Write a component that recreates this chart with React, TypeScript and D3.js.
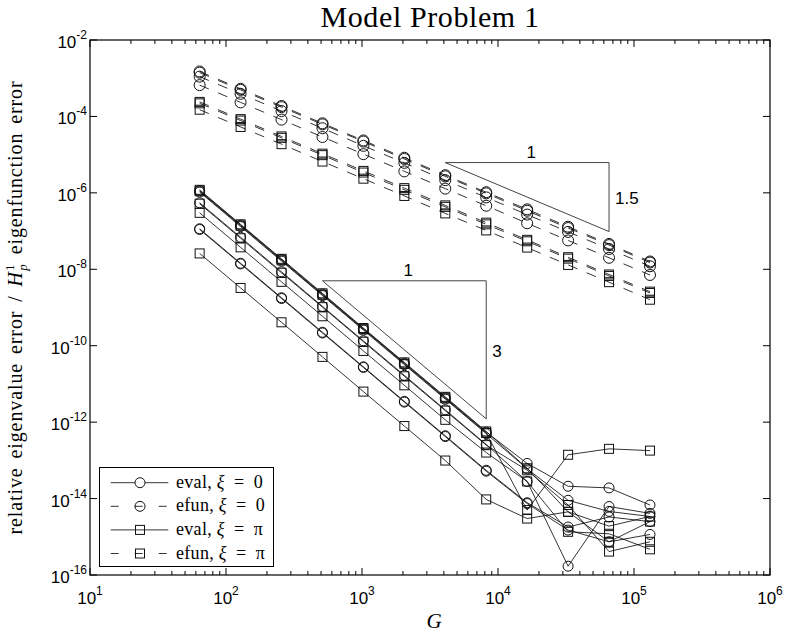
import React, { useEffect, useRef } from 'react';
import * as d3 from 'd3';

// grid sizes G (x axis)
const gridSizes = [64, 128, 256, 512, 1024, 2048, 4096, 8192, 16384, 32768, 65536, 131072];

// relative eigenvalue error, xi = 0 (solid, circles)
const evalXi0 = [
  [1.15e-6, 1.44e-7, 1.8e-8, 2.25e-9, 2.8e-10, 3.5e-11, 4.4e-12, 5.5e-13, 8.3e-14, 2.1e-14, 1.9e-14, 6.8e-15],
  [1.05e-6, 1.31e-7, 1.64e-8, 2.05e-9, 2.56e-10, 3.2e-11, 4.0e-12, 5.0e-13, 6.0e-14, 9.0e-15, 4.6e-15, 3.4e-15],
  [5.5e-7, 6.9e-8, 8.6e-9, 1.07e-9, 1.34e-10, 1.68e-11, 2.1e-12, 2.6e-13, 2.8e-14, 1.7e-16, 6.2e-15, 4.1e-15],
  [1.1e-7, 1.38e-8, 1.72e-9, 2.15e-10, 2.7e-11, 3.35e-12, 4.2e-13, 5.2e-14, 7.4e-15, 1.5e-15, 7.4e-16, 1.15e-15],
  [1.15e-7, 1.44e-8, 1.8e-9, 2.25e-10, 2.8e-11, 3.5e-12, 4.4e-13, 5.5e-14, 7.8e-15, 1.8e-15, 3.3e-15, 2.5e-15],
];

// relative eigenvalue error, xi = pi (solid, squares)
const evalXiPi = [
  [1.2e-6, 1.5e-7, 1.88e-8, 2.35e-9, 2.9e-10, 3.66e-11, 4.6e-12, 5.7e-13, 6.2e-14, 4.5e-15, 1.9e-15, 3.4e-15],
  [1.1e-6, 1.38e-7, 1.72e-8, 2.15e-9, 2.7e-10, 3.35e-11, 4.2e-12, 5.2e-13, 5.0e-15, 1.4e-13, 2.0e-13, 1.8e-13],
  [5.2e-7, 6.5e-8, 8.1e-9, 1.02e-9, 1.27e-10, 1.59e-11, 2.0e-12, 2.5e-13, 5.5e-14, 6.8e-15, 4.1e-16, 7.4e-16],
  [3.0e-7, 3.75e-8, 4.7e-9, 5.9e-10, 7.3e-11, 9.2e-12, 1.15e-12, 1.6e-13, 2.8e-14, 1.35e-15, 1.2e-15, 4.7e-16],
  [2.6e-8, 3.25e-9, 4.1e-10, 5.1e-11, 6.3e-12, 7.9e-13, 9.9e-14, 9.5e-15, 3.0e-15, 4.5e-15, 7.4e-16, 2.5e-15],
];

// H^1_p eigenfunction error, xi = 0 (dashed, circles)
const efunXi0 = [
  [1.5e-3, 5.3e-4, 1.88e-4, 6.6e-5, 2.35e-5, 8.3e-6, 2.9e-6, 1.04e-6, 3.7e-7, 1.3e-7, 4.6e-8, 1.6e-8],
  [1.4e-3, 4.95e-4, 1.75e-4, 6.2e-5, 2.2e-5, 7.7e-6, 2.7e-6, 9.7e-7, 3.4e-7, 1.2e-7, 4.3e-8, 1.5e-8],
  [1.1e-3, 3.9e-4, 1.38e-4, 4.9e-5, 1.7e-5, 6.1e-6, 2.15e-6, 7.6e-7, 2.7e-7, 9.5e-8, 3.4e-8, 1.2e-8],
  [6.6e-4, 2.33e-4, 8.25e-5, 2.9e-5, 1.03e-5, 3.65e-6, 1.29e-6, 4.6e-7, 1.6e-7, 5.7e-8, 2.0e-8, 7.1e-9],
];

// H^1_p eigenfunction error, xi = pi (dashed, squares)
const efunXiPi = [
  [2.4e-4, 8.5e-5, 3.0e-5, 1.06e-5, 3.75e-6, 1.33e-6, 4.7e-7, 1.66e-7, 5.9e-8, 2.07e-8, 7.3e-9, 2.6e-9],
  [2.2e-4, 7.8e-5, 2.75e-5, 9.7e-6, 3.4e-6, 1.2e-6, 4.3e-7, 1.5e-7, 5.4e-8, 1.9e-8, 6.7e-9, 2.4e-9],
  [1.5e-4, 5.3e-5, 1.88e-5, 6.6e-6, 2.35e-6, 8.3e-7, 2.9e-7, 1.04e-7, 3.7e-8, 1.3e-8, 4.6e-9, 1.6e-9],
];

// slope triangles: start / end G, error at the top edge, slope, labels
const triangles = [
  { x0: 4096, x1: 65536, y0: 6.2e-6, slope: 1.5, run: '1', rise: '1.5' },
  { x0: 512, x1: 8192, y0: 5e-9, slope: 3, run: '1', rise: '3' },
];

const legendLabels = ['eval', 'efun', 'eval', 'efun'];
const legendXi = ['0', '0', 'π', 'π'];

const xTickExps = [1, 2, 3, 4, 5, 6];
const yTickExps = [-16, -14, -12, -10, -8, -6, -4, -2];

const ModelProblemChart = () => {
  const chartRef = useRef<SVGSVGElement>(null);

  useEffect(() => {
    const svg = d3.select(chartRef.current);
    svg.selectAll('*').remove();

    const left = 90, right = 770, top = 40, bottom = 575;
    const serif = "'Liberation Serif', 'Times New Roman', serif";
    const sans = "'Liberation Sans', Arial, sans-serif";

    const x = d3.scaleLog().domain([1e1, 1e6]).range([left, right]);
    const y = d3.scaleLog().domain([1e-16, 1e-2]).range([bottom, top]);

    svg.append('rect').attr('width', 785).attr('height', 637).attr('fill', '#fff');

    // title
    svg.append('text')
      .attr('x', (left + right) / 2).attr('y', 27)
      .attr('text-anchor', 'middle')
      .attr('font-family', serif).attr('font-size', 30)
      .attr('letter-spacing', 0.6)
      .text('Model Problem 1');

    // x ticks (major + minor), inside, top and bottom
    const minor: number[] = [];
    for (let e = 1; e < 6; e++) for (let m = 2; m <= 9; m++) minor.push(m * Math.pow(10, e));
    const ticks = svg.append('g').attr('stroke', '#000').attr('stroke-width', 1);
    minor.forEach(v => {
      ticks.append('line').attr('x1', x(v)).attr('x2', x(v)).attr('y1', bottom).attr('y2', bottom - 4);
      ticks.append('line').attr('x1', x(v)).attr('x2', x(v)).attr('y1', top).attr('y2', top + 4);
    });
    xTickExps.forEach(e => {
      const px = x(Math.pow(10, e));
      ticks.append('line').attr('x1', px).attr('x2', px).attr('y1', bottom).attr('y2', bottom - 7);
      ticks.append('line').attr('x1', px).attr('x2', px).attr('y1', top).attr('y2', top + 7);
      const t = svg.append('text')
        .attr('x', px).attr('y', 604)
        .attr('text-anchor', 'middle')
        .attr('font-family', sans).attr('font-size', 17)
        .text('10');
      t.append('tspan').attr('dy', -9).attr('font-size', 12).text(String(e));
    });

    // y ticks, inside, left and right
    yTickExps.forEach(e => {
      const py = y(Math.pow(10, e));
      ticks.append('line').attr('x1', left).attr('x2', left + 7).attr('y1', py).attr('y2', py);
      ticks.append('line').attr('x1', right).attr('x2', right - 7).attr('y1', py).attr('y2', py);
      const t = svg.append('text')
        .attr('x', 87).attr('y', py + 8)
        .attr('text-anchor', 'end')
        .attr('font-family', sans).attr('font-size', 17)
        .text('10');
      t.append('tspan').attr('dy', -9).attr('font-size', 12).text(String(e));
    });

    // axes box
    svg.append('rect')
      .attr('x', left).attr('y', top)
      .attr('width', right - left).attr('height', bottom - top)
      .attr('fill', 'none').attr('stroke', '#000').attr('stroke-width', 1.2);

    // slope triangles
    triangles.forEach(tr => {
      const y1 = tr.y0 * Math.pow(tr.x1 / tr.x0, -tr.slope);
      const pts: [number, number][] = [
        [x(tr.x0), y(tr.y0)], [x(tr.x1), y(tr.y0)], [x(tr.x1), y(y1)],
      ];
      svg.append('path')
        .attr('d', d3.line()(pts) + 'Z')
        .attr('fill', 'none').attr('stroke', '#444').attr('stroke-width', 1);
      svg.append('text')
        .attr('x', (x(tr.x0) + x(tr.x1)) / 2 + 4).attr('y', y(tr.y0) - 5)
        .attr('text-anchor', 'middle')
        .attr('font-family', sans).attr('font-size', 17)
        .text(tr.run);
      svg.append('text')
        .attr('x', x(tr.x1) + 6).attr('y', (y(tr.y0) + y(y1)) / 2 + 7)
        .attr('font-family', sans).attr('font-size', 17)
        .text(tr.rise);
    });

    const line = d3.line<number>()
      .x((_, i) => x(gridSizes[i]))
      .y(d => y(d));

    const drawSeries = (rows: number[][], marker: string, dashed: boolean) => {
      rows.forEach(vals => {
        const g = svg.append('g');
        g.append('path')
          .datum(vals)
          .attr('d', line)
          .attr('fill', 'none')
          .attr('stroke', '#000')
          .attr('stroke-width', 0.8)
          .attr('stroke-dasharray', dashed ? '10 10' : null);
        if (marker === 'circle') {
          g.selectAll('circle').data(vals).enter().append('circle')
            .attr('cx', (_, i) => x(gridSizes[i]))
            .attr('cy', d => y(d))
            .attr('r', dashed ? 5.5 : 5)
            .attr('fill', 'none').attr('stroke', '#111').attr('stroke-width', 1);
        } else {
          g.selectAll('rect').data(vals).enter().append('rect')
            .attr('x', (_, i) => x(gridSizes[i]) - 4.5)
            .attr('y', d => y(d) - 4.5)
            .attr('width', 9).attr('height', 9)
            .attr('fill', 'none').attr('stroke', '#111').attr('stroke-width', 1);
        }
      });
    };

    drawSeries(efunXi0, 'circle', true);
    drawSeries(efunXiPi, 'square', true);
    drawSeries(evalXiPi, 'square', false);
    drawSeries(evalXi0, 'circle', false);

    // legend
    const lg = svg.append('g');
    lg.append('rect')
      .attr('x', 99.5).attr('y', 467.5).attr('width', 174).attr('height', 99)
      .attr('fill', '#fff').attr('stroke', '#000').attr('stroke-width', 1);
    legendLabels.forEach((lab, i) => {
      const ly = 482.7 + i * 23.6;
      const dashed = lab === 'efun';
      lg.append('line')
        .attr('x1', 110.7).attr('x2', 168.3).attr('y1', ly).attr('y2', ly)
        .attr('stroke', '#000').attr('stroke-width', 0.8)
        .attr('stroke-dasharray', dashed ? '8 16' : null);
      if (i < 2) {
        lg.append('circle').attr('cx', 140).attr('cy', ly).attr('r', 5)
          .attr('fill', i === 0 ? '#fff' : 'none').attr('stroke', '#111');
      } else {
        lg.append('rect').attr('x', 135.5).attr('y', ly - 4.5).attr('width', 9).attr('height', 9)
          .attr('fill', 'none').attr('stroke', '#111');
      }
      const t = lg.append('text')
        .attr('x', 176).attr('y', ly + 5)
        .attr('font-family', serif).attr('font-size', 18)
        .attr('letter-spacing', 0.3)
        .text(lab + ', ');
      t.append('tspan').attr('font-style', 'italic').text('ξ');
      t.append('tspan').text('\u2002=\u2002' + legendXi[i]);
    });

    // x label
    svg.append('text')
      .attr('x', 434).attr('y', 628)
      .attr('text-anchor', 'middle')
      .attr('font-family', serif).attr('font-size', 21).attr('font-style', 'italic')
      .text('G');

    // y label
    const yl = svg.append('text')
      .attr('transform', `translate(22,${(top + bottom) / 2}) rotate(-90)`)
      .attr('text-anchor', 'middle')
      .attr('font-family', serif).attr('font-size', 20)
      .attr('letter-spacing', 0.9).attr('word-spacing', 3)
      .text('relative eigenvalue error / ');
    yl.append('tspan').attr('font-style', 'italic').text('H');
    yl.append('tspan').attr('font-size', 13).attr('dy', -8).text('1');
    yl.append('tspan').attr('font-size', 13).attr('font-style', 'italic').attr('dx', -7).attr('dy', 13).text('p');
    yl.append('tspan').attr('dy', -5).text(' eigenfunction error');
  }, []);

  return (
    <svg
      ref={chartRef}
      width={785}
      height={637}
      style={{ position: 'absolute', left: 0, top: 0 }}
    />
  );
};

export default function App() {
  return <ModelProblemChart />;
}
